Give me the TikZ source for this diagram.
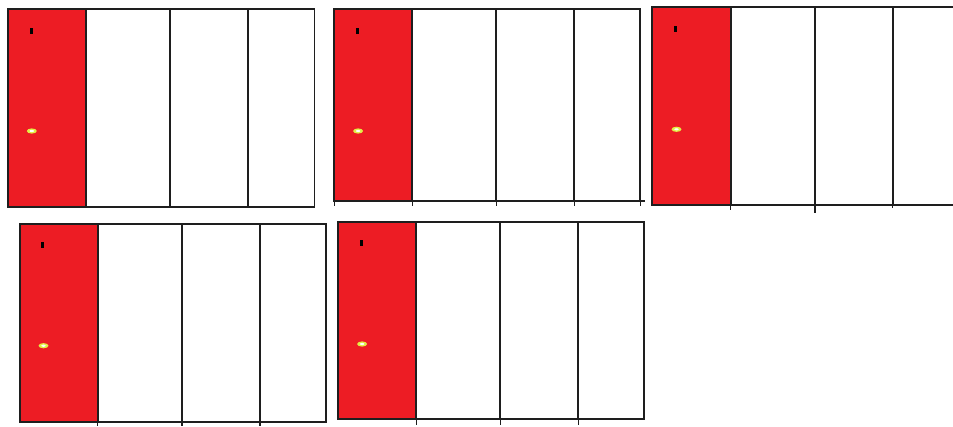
\documentclass[tikz,border=0pt]{standalone}
\usetikzlibrary{calc}
\definecolor{paintred}{RGB}{237,28,36}
\definecolor{edge}{RGB}{30,30,30}
\definecolor{spark}{RGB}{225,238,70}
\tikzset{
  frame/.style={draw=edge, line width=1.7pt},
  redcol/.style={fill=paintred, draw=edge, line width=1.7pt},
  tickline/.style={draw=edge, line width=1.4pt},
  blackmark/.style={fill=black, draw=none},
  sparkouter/.style={fill=spark, draw=none},
  sparkinner/.style={fill=white, draw=none}
}
\newcommand{\flagmarks}[3]{%
  \fill[blackmark] ($(#1,#2)+(-1.5,-3)$) rectangle ($(#1,#2)+(1.5,3)$);
  \fill[sparkouter] ($(#1,#3)+(0.8,0)$) ellipse [x radius=5, y radius=2.6];
  \fill[sparkinner] ($(#1,#3)+(0.8,0)$) ellipse [x radius=2.2, y radius=1.1];
}
\begin{document}
\begin{tikzpicture}[x=1pt,y=-1pt]
\useasboundingbox (0,0) rectangle (953,426);
% panel 1
\path[redcol] (8,9) rectangle (86,207);
\draw[frame] (86,9) -- (314.5,9) -- (314.5,207) -- (86,207);
\draw[frame] (170,9) -- (170,207);
\draw[frame] (248,9) -- (248,207);
\flagmarks{31}{30.7}{131}
% panel 2
\path[redcol] (334.3,9) rectangle (412.3,201.3);
\draw[frame] (412.3,9) -- (640.3,9) -- (640.3,201.3);
\draw[frame] (412.3,201.3) -- (645,201.3);
\draw[frame] (496.3,9) -- (496.3,201.3);
\draw[frame] (574.3,9) -- (574.3,201.3);
\draw[tickline] (334.3,201.3) -- (334.3,205.7);
\draw[tickline] (412.3,201.3) -- (412.3,205.7);
\draw[tickline] (496.3,201.3) -- (496.3,205.7);
\draw[tickline] (574.3,201.3) -- (574.3,205.7);
\draw[tickline] (640.3,201.3) -- (640.3,205.7);
\flagmarks{357.3}{30.7}{131}
% panel 3
\path[redcol] (652.3,7.3) rectangle (730.7,205);
\draw[frame] (730.7,7.3) -- (953,7.3);
\draw[frame] (730.7,205) -- (953,205);
\draw[frame] (815,7.3) -- (815,205);
\draw[frame] (892.7,7.3) -- (892.7,205);
\draw[tickline] (730.7,205) -- (730.7,210);
\draw[tickline] (815,205) -- (815,213);
\draw[tickline] (892.7,205) -- (892.7,208);
\flagmarks{675.7}{29}{129.3}
% panel 4
\path[redcol] (20,224) rectangle (97.7,421.7);
\draw[frame] (97.7,224) -- (326,224) -- (326,421.7) -- (97.7,421.7);
\draw[frame] (182,224) -- (182,421.7);
\draw[frame] (260,224) -- (260,421.7);
\draw[tickline] (97.7,421.7) -- (97.7,426);
\draw[tickline] (182,421.7) -- (182,426);
\draw[tickline] (260,421.7) -- (260,426);
\flagmarks{42.7}{245.3}{345.7}
% panel 5
\path[redcol] (338.3,221.7) rectangle (416.3,419.3);
\draw[frame] (416.3,221.7) -- (644.3,221.7) -- (644.3,419.3) -- (416.3,419.3);
\draw[frame] (500.3,221.7) -- (500.3,419.3);
\draw[frame] (578.3,221.7) -- (578.3,419.3);
\draw[tickline] (416.3,419.3) -- (416.3,425);
\draw[tickline] (500.3,419.3) -- (500.3,425);
\draw[tickline] (578.3,419.3) -- (578.3,425);
\flagmarks{361.3}{243.3}{344}
\end{tikzpicture}
\end{document}
